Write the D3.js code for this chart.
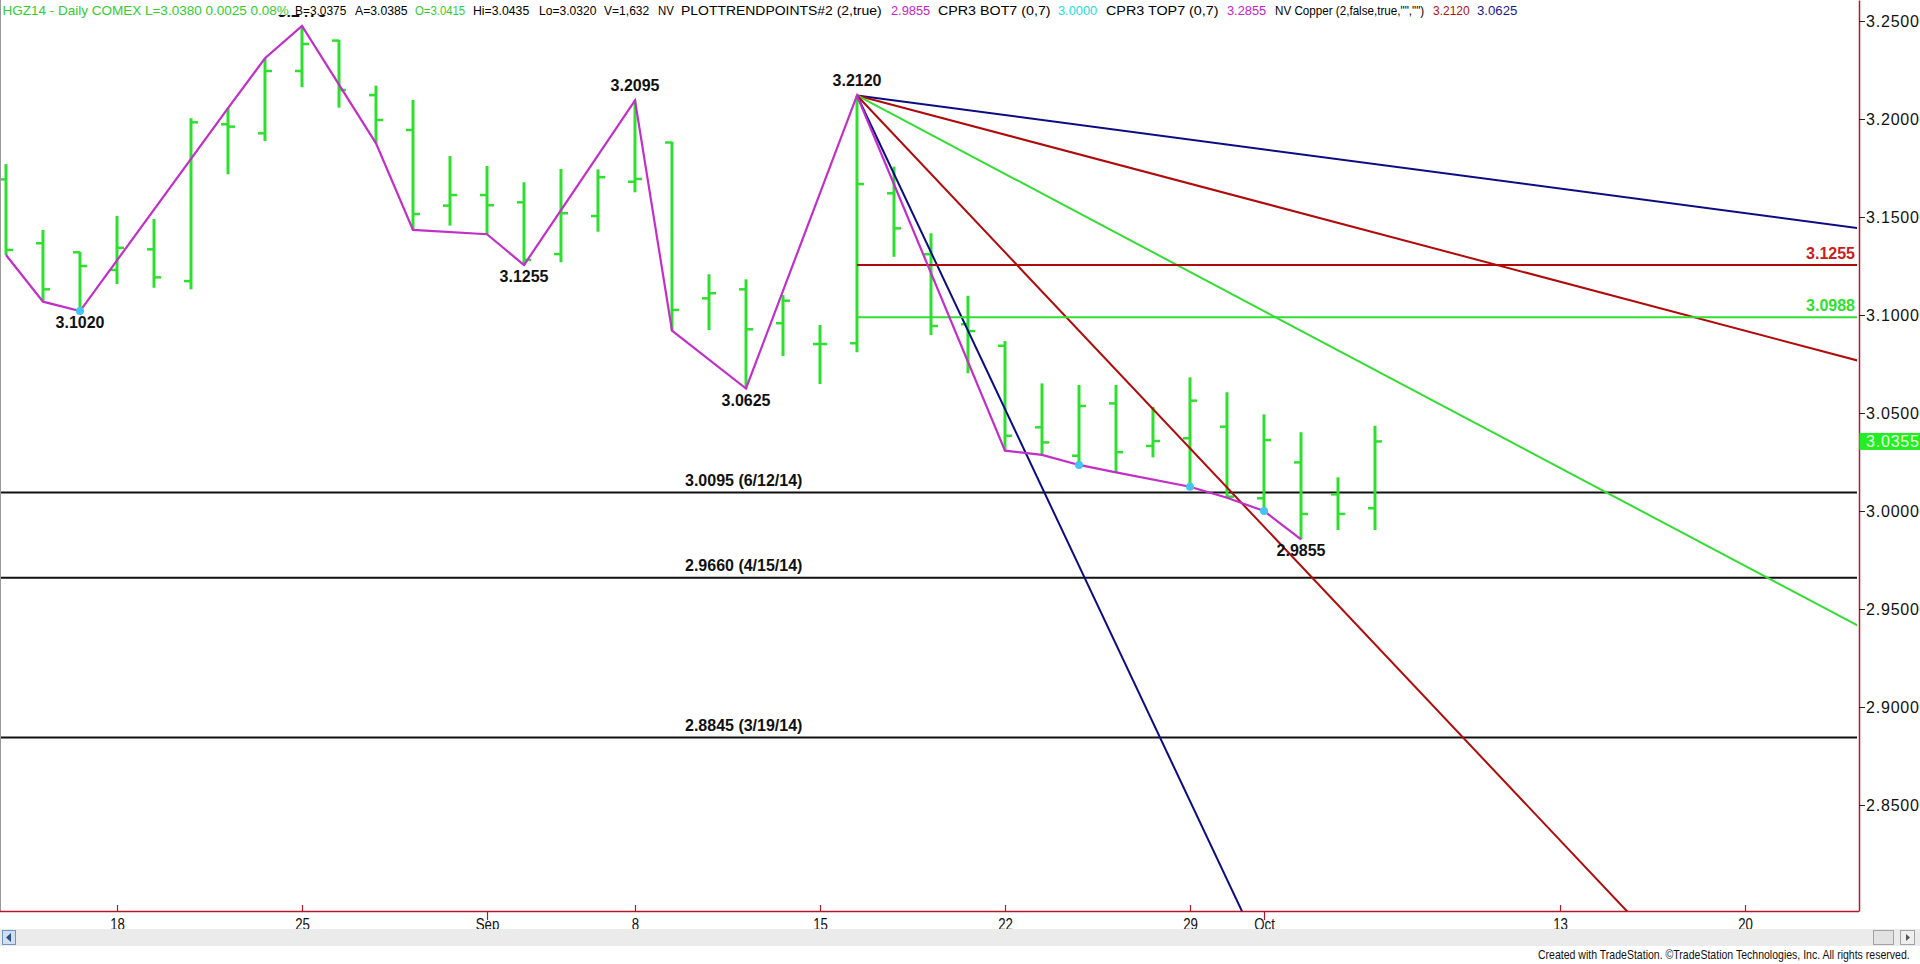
<!DOCTYPE html>
<html><head><meta charset="utf-8">
<script src="https://cdn.jsdelivr.net/npm/d3@7/dist/d3.min.js"></script>
<style>
html,body{margin:0;padding:0;background:#fff;overflow:hidden}
svg{display:block;font-family:"Liberation Sans",Arial,sans-serif}
</style></head><body>
<svg id="c" width="1920" height="964"></svg>
<script>
// ---------------- DATA ----------------
const dates = ["Aug 13","Aug 14","Aug 15","Aug 18","Aug 19","Aug 20","Aug 21","Aug 22","Aug 25","Aug 26","Aug 27","Aug 28","Aug 29",
  "Sep 2","Sep 3","Sep 4","Sep 5","Sep 8","Sep 9","Sep 10","Sep 11","Sep 12","Sep 15","Sep 16","Sep 17","Sep 18","Sep 19",
  "Sep 22","Sep 23","Sep 24","Sep 25","Sep 26","Sep 29","Sep 30","Oct 1","Oct 2","Oct 3","Oct 6"];
const openV  = [3.1692,3.1366,3.1320,3.1230,3.1335,3.1173,3.1973,3.1927,3.2245,3.2400,3.2122,3.1944,3.1558,
  3.1612,3.1575,3.1311,3.1505,3.1680,3.1880,3.1085,3.1131,3.0958,3.0852,3.0856,3.1621,3.1310,3.0953,
  3.0843,3.0427,3.0282,3.0549,3.0332,3.0371,3.0430,3.0065,3.0248,3.0085,3.0014];
const highV  = [3.1770,3.1434,3.1323,3.1505,3.1490,3.2004,3.2055,3.2310,3.2475,3.2403,3.2170,3.2097,3.1811,
  3.1760,3.1677,3.1745,3.1743,3.2095,3.1884,3.1208,3.1182,3.1102,3.0949,3.2120,3.1757,3.1417,3.1098,
  3.0867,3.0651,3.0643,3.0643,3.0532,3.0682,3.0606,3.0493,3.0402,3.0172,3.0435];
const lowV   = [3.1306,3.1068,3.1020,3.1158,3.1139,3.1131,3.1718,3.1888,3.2162,3.2058,3.1876,3.1434,3.1456,
  3.1412,3.1255,3.1269,3.1425,3.1626,3.0920,3.0923,3.0625,3.0791,3.0648,3.0810,3.1297,3.0898,3.0703,
  3.0308,3.0286,3.0235,3.0197,3.0274,3.0124,3.0068,3.0000,2.9855,2.9903,2.9903];
const closeV = [3.1332,3.1131,3.1250,3.1343,3.1192,3.1983,3.1961,3.2245,3.2383,3.2148,3.1995,3.1515,3.1612,
  3.1560,3.1281,3.1519,3.1703,3.1694,3.1026,3.1111,3.0927,3.1073,3.0852,3.1668,3.1442,3.0944,3.0918,
  3.0384,3.0350,3.0536,3.0300,3.0357,3.0563,3.0073,3.0362,2.9985,2.9985,3.0355];

const xTickIdx    = [3,8,13,17,22,27,32,34,42,47];
const xTickLabels = ["18","25","Sep","8","15","22","29","Oct","13","20"];
const monthLabels = ["Sep","Oct"];
const yTicks = [3.25,3.20,3.15,3.10,3.05,3.00,2.95,2.90,2.85];

const swingIdx   = [0,1,2,6,7,8,10,11,13,14,17,18,20,23,27,28,29,30,32,33,34,35];
const swingPrice = [3.1306,3.1068,3.1020,3.2055,3.2310,3.2475,3.1876,3.1434,3.1412,3.1255,3.2095,3.0920,3.0625,3.2120,
  3.0308,3.0286,3.0235,3.0197,3.0124,3.0068,3.0000,2.9855];

const cprIdx   = [2,29,32,34];
const cprPrice = [3.1020,3.0235,3.0124,3.0000];

const pivotIdx   = [8,2,14,17,20,23,35];
const pivotPrice = [3.2475,3.1020,3.1255,3.2095,3.0625,3.2120,2.9855];
const pivotText  = ["3.2475","3.1020","3.1255","3.2095","3.0625","3.2120","2.9855"];
const pivotSide  = ["high","low","low","high","low","high","low"];

const supportPrice = [3.0095,2.9660,2.8845];
const supportText  = ["3.0095 (6/12/14)","2.9660 (4/15/14)","2.8845 (3/19/14)"];

const fanOriginIdx = 23, fanOriginPrice = 3.2120;
const fanRates = [0.0025,0.005,0.01,0.02,0.04];   // price drop per bar

const levelPrice = [3.1255,3.0988];
const levelText  = ["3.1255","3.0988"];

const lastPrice = 3.0355;

const headerParts = ["HGZ14 - Daily  COMEX  L=3.0380  0.0025  0.08%","B=3.0375","A=3.0385","O=3.0415","Hi=3.0435","Lo=3.0320",
  "V=1,632","NV","PLOTTRENDPOINTS#2 (2,true)","2.9855","CPR3 BOT7 (0,7)","3.0000","CPR3 TOP7 (0,7)","3.2855",
  "NV Copper (2,false,true,\"\",\"\")","3.2120","3.0625"];

// ---------------- STYLE ----------------
const C = {green:"#2fdf2f", magenta:"#c22ec8", cyan:"#44c4f2", navy:"#0c0c82", red:"#b00a0a",
  redText:"#cc1b1b", lgreen:"#33dd33", axis:"#b0182c", black:"#111"};
const fanColors = [C.navy, C.red, C.lgreen, C.red, C.navy];
const levelColors = [C.red, C.lgreen];
const levelTextColors = [C.redText, "#2ee02e"];
const headerColors = ["#33cc33","#000","#000","#33cc33","#000","#000","#000","#000","#000","#cc22cc","#000","#22dddd","#000",
  "#cc22cc","#000","#b01010","#1a1a90"];
const headerX = [2.4,295,355,415,473,539,604,658,681,891,938,1058,1106,1227,1275,1433,1477];
const headerW = [286.6,51.4,52.6,50.2,56.3,57.5,45.3,15.9,200.8,39.2,112.7,39.2,112.7,39.2,149.4,36.7,40.4];

// fit a text horizontally into a width by scaling (keeps glyph height)
function fitText(sel, px, py, w) {
  const n = sel.node().getComputedTextLength();
  sel.attr("x",0).attr("y",0).attr("transform",`translate(${px},${py}) scale(${w/n},1)`);
}

// ---------------- LAYOUT ----------------
const plotR = 1859, plotB = 911;
const svg = d3.select("#c");
const x = d3.scaleLinear().domain([-6/37, (plotR-6)/37]).range([0, plotR]);
const y = d3.scaleLinear().domain([3.1 - 596/1960, 3.1 + 315/1960]).range([plotB, 0]);

const defs = svg.append("defs");
defs.append("clipPath").attr("id","clip")
  .append("rect").attr("x",0).attr("y",0).attr("width",plotR-2).attr("height",plotB);
defs.append("clipPath").attr("id","clipTop")
  .append("rect").attr("x",0).attr("y",15).attr("width",plotR-2).attr("height",plotB-15);

const plot = svg.append("g").attr("clip-path","url(#clip)");

// support lines
supportPrice.forEach((p,i)=>{
  plot.append("line").attr("x1",0).attr("x2",plotR-2).attr("y1",y(p)).attr("y2",y(p))
    .attr("stroke",C.black).attr("stroke-width",2);
  plot.append("text").attr("x",685).attr("y",y(p)-6.5).text(supportText[i])
    .attr("font-size",16).attr("font-weight","bold").attr("fill","#111");
});

// bars
const bars = plot.append("g");
dates.forEach((d,i)=>{
  const cx = x(i);
  bars.append("line").attr("x1",cx).attr("x2",cx).attr("y1",y(highV[i])).attr("y2",y(lowV[i]))
    .attr("stroke",C.green).attr("stroke-width",3);
  bars.append("line").attr("x1",cx-7).attr("x2",cx).attr("y1",y(openV[i])).attr("y2",y(openV[i]))
    .attr("stroke",C.green).attr("stroke-width",2.5);
  bars.append("line").attr("x1",cx).attr("x2",cx+7).attr("y1",y(closeV[i])).attr("y2",y(closeV[i]))
    .attr("stroke",C.green).attr("stroke-width",2.5);
});

// fan lines
const xEnd = x.domain()[1];
fanRates.forEach((r,i)=>{
  plot.append("line").attr("x1",x(fanOriginIdx)).attr("y1",y(fanOriginPrice))
    .attr("x2",x(xEnd)).attr("y2",y(fanOriginPrice - r*(xEnd-fanOriginIdx)))
    .attr("stroke",fanColors[i]).attr("stroke-width",2);
});

// level lines
levelPrice.forEach((p,i)=>{
  plot.append("line").attr("x1",x(fanOriginIdx)).attr("x2",plotR-2).attr("y1",y(p)).attr("y2",y(p))
    .attr("stroke",levelColors[i]).attr("stroke-width",2);
  plot.append("text").attr("x",plotR-4).attr("y",y(p)-6).attr("text-anchor","end").text(levelText[i])
    .attr("font-size",16).attr("font-weight","bold").attr("fill",levelTextColors[i]);
});

// swing line
plot.append("path").datum(swingIdx.map((d,i)=>[d,swingPrice[i]]))
  .attr("d",d3.line().x(d=>x(d[0])).y(d=>y(d[1])))
  .attr("fill","none").attr("stroke",C.magenta).attr("stroke-width",2.2);

// cpr dots
cprIdx.forEach((d,i)=>{
  plot.append("circle").attr("cx",x(d)).attr("cy",y(cprPrice[i])).attr("r",4).attr("fill",C.cyan);
});

// pivot labels (the top one is mostly hidden behind the header band, as in the original)
const labels = svg.append("g").attr("clip-path","url(#clipTop)");
pivotIdx.forEach((d,i)=>{
  const yy = pivotSide[i]==="high" ? y(pivotPrice[i])-9 : y(pivotPrice[i])+17;
  labels.append("text").attr("x",x(d)).attr("y",yy).attr("text-anchor","middle").text(pivotText[i])
    .attr("font-size",16).attr("font-weight","bold").attr("fill","#111");
});

// header
headerParts.forEach((t,i)=>{
  const tx = svg.append("text").text(t).attr("font-size",13).attr("fill",headerColors[i]);
  fitText(tx, headerX[i], 14.5, headerW[i]);
});

// left border
svg.append("line").attr("x1",0.5).attr("x2",0.5).attr("y1",0).attr("y2",plotB).attr("stroke","#999").attr("stroke-width",1);

// right axis
const yAxis = svg.append("g").attr("transform",`translate(${plotR},0)`)
  .call(d3.axisRight(y).tickValues(yTicks).tickFormat(d3.format(".4f")).tickSize(6).tickPadding(1).tickSizeOuter(0));
yAxis.select(".domain").attr("stroke",C.axis).attr("stroke-width",1.5);
yAxis.selectAll(".tick line").attr("stroke","#222");
yAxis.selectAll(".tick text").attr("font-size",16).attr("fill","#111").attr("letter-spacing","0.8px")
  .attr("font-family","'Liberation Sans',Arial,sans-serif");

// last price box
const ly = y(lastPrice);
svg.append("rect").attr("x",plotR+0.5).attr("y",ly-8.5).attr("width",1920-plotR).attr("height",17).attr("fill","#22ee22");
svg.append("text").attr("x",plotR+7).attr("y",ly+6).text(d3.format(".4f")(lastPrice))
  .attr("font-size",16).attr("fill","#eaffea").attr("letter-spacing","0.8px");

// bottom axis
const xAxis = svg.append("g").attr("transform",`translate(0,${plotB})`)
  .call(d3.axisBottom(x).tickValues(xTickIdx).tickFormat((d,i)=>xTickLabels[i]).tickSizeOuter(0));
xAxis.select(".domain").attr("stroke",C.axis).attr("stroke-width",1.5).attr("d",`M0,0.5H${plotR}`);
xAxis.selectAll(".tick line").attr("stroke",C.axis).attr("stroke-width",1.2)
  .attr("y1",(d,i)=>monthLabels.includes(xTickLabels[i])?0:-6)
  .attr("y2",(d,i)=>monthLabels.includes(xTickLabels[i])?9:0);
xAxis.selectAll(".tick text").attr("y",19).attr("dy",0).attr("font-size",17).attr("fill","#111")
  .attr("transform","scale(0.78,1)").attr("font-family","'Liberation Sans',Arial,sans-serif");

// scrollbar
svg.append("rect").attr("x",0).attr("y",929).attr("width",1920).attr("height",17).attr("fill","#ebebeb");
svg.append("rect").attr("x",2.5).attr("y",930.5).attr("width",13).attr("height",14).attr("fill","#cfe0f2").attr("stroke","#6f94bf");
svg.append("path").attr("d","M11,933 L6,937.5 L11,942 Z").attr("fill","#2b4f80");
svg.append("rect").attr("x",1873.5).attr("y",930.5).attr("width",20).attr("height",14).attr("fill","#e2e2e2").attr("stroke","#a2a2a2");
svg.append("rect").attr("x",1900.5).attr("y",930.5).attr("width",14).attr("height",14).attr("fill","#eeeeee").attr("stroke","#a2a2a2");
svg.append("path").attr("d","M1906,934 L1910,937.5 L1906,941 Z").attr("fill","#555");

// credit
const credit = svg.append("text").text("Created with TradeStation. \u00A9TradeStation Technologies, Inc. All rights reserved.")
  .attr("font-size",12).attr("fill","#111");
fitText(credit, 1538, 959, 372);
</script>
</body></html>
